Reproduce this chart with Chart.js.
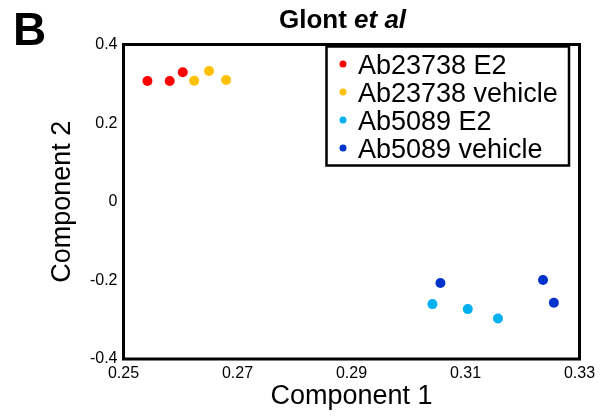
<!DOCTYPE html>
<html>
<head>
<meta charset="utf-8">
<script src="https://cdn.jsdelivr.net/npm/chart.js@4.4.1/dist/chart.umd.min.js"></script>
<style>
  html, body { margin: 0; padding: 0; background: #fff; }
</style>
</head>
<body>
<canvas id="c" width="603" height="419"></canvas>
<script>
// series labels and colours
const seriesNames = ['Ab23738 E2', 'Ab23738 vehicle', 'Ab5089 E2', 'Ab5089 vehicle'];
const seriesColors = ['#ff0000', '#ffc000', '#00b0f0', '#0033cc'];

// component 1 / component 2 values per series
const ab23738E2X = [0.2542, 0.2581, 0.2604];
const ab23738E2Y = [0.3071, 0.3071, 0.3293];
const ab23738VehX = [0.2624, 0.2650, 0.2680];
const ab23738VehY = [0.3079, 0.3326, 0.3097];
const ab5089E2X = [0.3042, 0.3104, 0.3157];
const ab5089E2Y = [-0.2604, -0.2731, -0.2968];
const ab5089VehX = [0.3056, 0.3236, 0.3255];
const ab5089VehY = [-0.2069, -0.1992, -0.2568];

// ticks
const xTickValues = [0.25, 0.27, 0.29, 0.31, 0.33];
const xTickLabels = ['0.25', '0.27', '0.29', '0.31', '0.33'];
const yTickValues = [-0.4, -0.2, 0, 0.2, 0.4];
const yTickLabels = ['-0.4', '-0.2', '0', '0.2', '0.4'];

const FONT = '"Liberation Sans", Arial, Helvetica, sans-serif';

function pts(xs, ys) {
  return xs.map((x, i) => ({ x: x, y: ys[i] }));
}

const allX = [ab23738E2X, ab23738VehX, ab5089E2X, ab5089VehX];
const allY = [ab23738E2Y, ab23738VehY, ab5089E2Y, ab5089VehY];

const datasets = seriesNames.map((name, i) => ({
  label: name,
  data: pts(allX[i], allY[i]),
  backgroundColor: seriesColors[i],
  borderWidth: 0,
  pointRadius: 5,
  pointHoverRadius: 5,
  clip: false
}));

// frame, legend box, panel letter and title
const decorPlugin = {
  id: 'decor',
  afterDraw(chart) {
    const ctx = chart.ctx;
    const a = chart.chartArea;
    ctx.save();

    // axes box
    ctx.strokeStyle = '#000';
    ctx.lineWidth = 3;
    ctx.strokeRect(a.left, a.top, a.right - a.left, a.bottom - a.top);

    // legend
    const lx = 326.5, ly = 46.5, lw = 242.5, lh = 119;
    ctx.lineWidth = 2.5;
    ctx.fillStyle = '#fff';
    ctx.fillRect(lx, ly, lw, lh);
    ctx.strokeRect(lx, ly, lw, lh);
    ctx.font = '27px ' + FONT;
    ctx.textBaseline = 'alphabetic';
    ctx.textAlign = 'left';
    seriesNames.forEach((name, i) => {
      const y = 64 + i * 28;
      ctx.fillStyle = seriesColors[i];
      ctx.beginPath();
      ctx.arc(343, y, 3.5, 0, Math.PI * 2);
      ctx.fill();
      ctx.fillStyle = '#000';
      ctx.fillText(name, 358, y + 9.5);
    });

    // panel letter
    ctx.font = 'bold 46px ' + FONT;
    ctx.fillText('B', 13, 45);

    // title: "Glont" + italic "et al"
    const t1 = 'Glont ', t2 = 'et al';
    ctx.font = 'bold 26px ' + FONT;
    const w1 = ctx.measureText(t1).width;
    ctx.font = 'italic bold 26px ' + FONT;
    const w2 = ctx.measureText(t2).width;
    const x0 = 342.5 - (w1 + w2) / 2;
    ctx.font = 'bold 26px ' + FONT;
    ctx.fillText(t1, x0, 28);
    ctx.font = 'italic bold 26px ' + FONT;
    ctx.fillText(t2, x0 + w1, 28);

    ctx.restore();
  }
};

new Chart(document.getElementById('c'), {
  type: 'scatter',
  data: { datasets: datasets },
  plugins: [decorPlugin],
  options: {
    responsive: false,
    animation: false,
    layout: { padding: { left: 0, right: 23.5, top: 44.5, bottom: 0 } },
    plugins: {
      legend: { display: false },
      tooltip: { enabled: false },
      title: { display: false }
    },
    scales: {
      x: {
        type: 'linear',
        min: 0.25,
        max: 0.33,
        afterBuildTicks: s => { s.ticks = xTickValues.map(v => ({ value: v })); },
        afterFit: s => { s.height = 60; },
        grid: { display: false, drawTicks: false },
        border: { display: false },
        ticks: {
          color: '#000',
          font: { family: FONT, size: 16 },
          padding: 5,
          maxRotation: 0,
          autoSkip: false,
          callback: (v, i) => xTickLabels[i]
        },
        title: {
          display: true,
          text: 'Component 1',
          color: '#000',
          font: { family: FONT, size: 27 },
          padding: { top: 0, bottom: 6 }
        }
      },
      y: {
        type: 'linear',
        min: -0.4,
        max: 0.4,
        afterBuildTicks: s => { s.ticks = yTickValues.map(v => ({ value: v })); },
        afterFit: s => { s.width = 123.5; },
        grid: { display: false, drawTicks: false },
        border: { display: false },
        ticks: {
          color: '#000',
          font: { family: FONT, size: 16 },
          padding: 6,
          autoSkip: false,
          callback: (v, i) => yTickLabels[i]
        },
        title: {
          display: true,
          text: 'Component 2',
          color: '#000',
          font: { family: FONT, size: 27 },
          padding: { top: 46, bottom: 0 }
        }
      }
    }
  }
});
</script>
</body>
</html>
